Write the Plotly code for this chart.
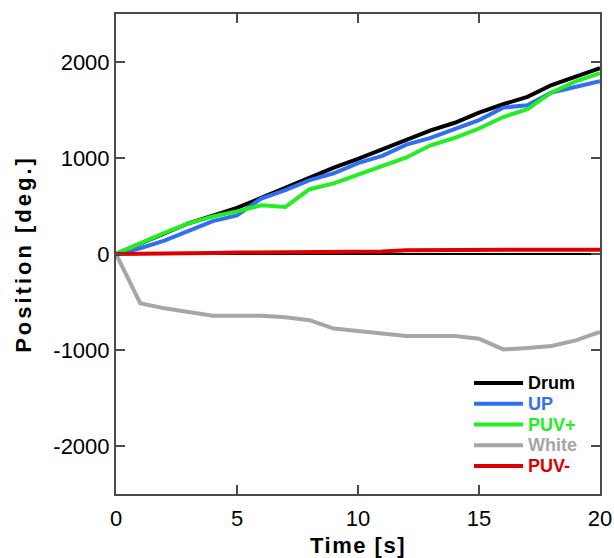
import plotly.graph_objects as go

time_s = list(range(0, 21))
drum = [0, 110, 215, 320, 400, 481, 584, 690, 800, 900, 991, 1087, 1181, 1287, 1367, 1473, 1560, 1637, 1760, 1848, 1935]
up = [0, 60, 140, 244, 342, 402, 578, 665, 770, 841, 946, 1023, 1139, 1209, 1297, 1395, 1525, 1550, 1683, 1746, 1799]
puv_plus = [0, 115, 220, 320, 390, 444, 507, 490, 675, 735, 823, 911, 1006, 1132, 1209, 1307, 1427, 1508, 1683, 1799, 1883]
white = [0, -513, -566, -608, -643, -643, -643, -660, -689, -777, -805, -833, -854, -854, -854, -882, -994, -980, -959, -900, -812]
puv_minus = [0, 0, 5, 8, 10, 15, 18, 20, 20, 20, 22, 25, 40, 42, 42, 42, 42, 45, 45, 45, 45]

names = ["Drum", "UP", "PUV+", "White", "PUV-"]
colors = ["#000000", "#2f6ff2", "#22ee22", "#a6a6a6", "#dd0000"]
series = [drum, up, puv_plus, white, puv_minus]

x_ticks = [0, 5, 10, 15, 20]
y_ticks = [-2000, -1000, 0, 1000, 2000]
y_ticktext = ["-2000", "-1000", "0", "1000", "2000"]

font_family = "Liberation Sans, Arial, sans-serif"
fig = go.Figure()
for n, c, s in zip(names, colors, series):
    fig.add_trace(go.Scatter(
        x=time_s, y=s, mode="lines",
        line=dict(color=c, width=4),
        name=n, showlegend=False,
    ))

# legend drawn as shapes + annotations (paper coordinates)
leg_x0, leg_x1, leg_tx = 0.7397, 0.841, 0.847
leg_y0, leg_dy = 0.231, 0.0432
for i, (n, c) in enumerate(zip(names, colors)):
    yy = leg_y0 - i * leg_dy
    fig.add_shape(type="line", xref="paper", yref="paper",
                  x0=leg_x0, x1=leg_x1, y0=yy, y1=yy,
                  line=dict(color=c, width=4))
    fig.add_annotation(xref="paper", yref="paper", x=leg_tx, y=yy,
                       xanchor="left", yanchor="middle", showarrow=False,
                       text=f"<b>{n}</b>", font=dict(size=18, color=c, family=font_family))

axis_col = "#4a4a4a"
fig.update_layout(
    width=614, height=558,
    margin=dict(l=116, r=14, t=14, b=64),
    paper_bgcolor="white", plot_bgcolor="white",
    font=dict(family=font_family, size=22, color="black"),
    xaxis=dict(
        range=[0, 20], tickvals=x_ticks, automargin=False,
        ticks="inside", ticklen=9, tickwidth=1.5, tickcolor=axis_col,
        showline=True, linecolor=axis_col, linewidth=2, mirror="ticks",
        showgrid=False, zeroline=False, ticklabelstandoff=4,
        title=dict(text="<b><span style='letter-spacing:1.5px'>Time [s]</span></b>", font=dict(size=22), standoff=7),
    ),
    yaxis=dict(
        range=[-2500, 2500], tickvals=y_ticks, ticktext=y_ticktext, automargin=False,
        ticks="inside", ticklen=9, tickwidth=1.5, tickcolor=axis_col,
        showline=True, linecolor=axis_col, linewidth=2, mirror="ticks",
        showgrid=False, zeroline=True, zerolinecolor="black", zerolinewidth=1.5,
        title=dict(text="<b><span style='letter-spacing:3px'>Position [deg.]</span></b>", font=dict(size=22), standoff=16),
    ),
)

fig.write_html("out.html", default_width="614px", default_height="558px",
               config={"displayModeBar": False},
               post_script="document.body.style.margin='0';document.body.style.overflow='hidden';")
